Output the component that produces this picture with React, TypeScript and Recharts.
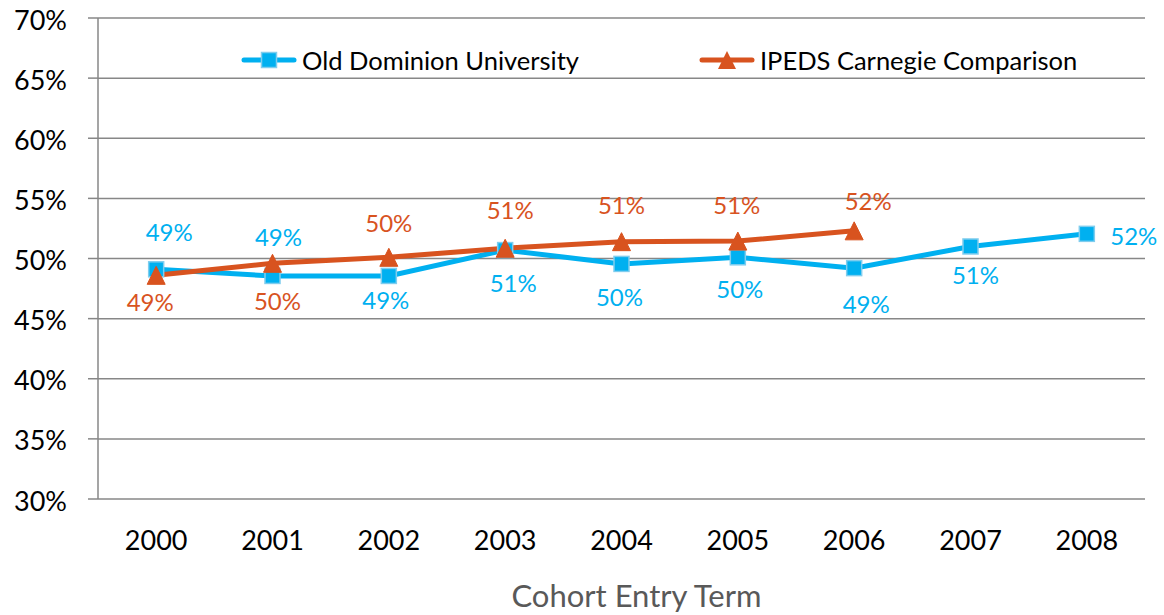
import React from 'react';
import { LineChart, Line, XAxis, YAxis, CartesianGrid, Legend, LabelList, Label } from 'recharts';

const years = ['2000', '2001', '2002', '2003', '2004', '2005', '2006', '2007', '2008'];
const oduValues: (number | null)[] = [49.1, 48.55, 48.55, 50.7, 49.55, 50.1, 49.2, 51.0, 52.05];
const ipedsValues: (number | null)[] = [48.6, 49.6, 50.1, 50.85, 51.4, 51.45, 52.3, null, null];
const yTicks = [30, 35, 40, 45, 50, 55, 60, 65, 70];
const seriesKeys = ['odu', 'ipeds'];
const seriesNames = ['Old Dominion University', 'IPEDS Carnegie Comparison'];
const xTitle = 'Cohort Entry Term';

const rows = years.map((year, i) => ({ i, year, odu: oduValues[i], ipeds: ipedsValues[i] }));
const labelTicks = years.map((_, i) => i);
const markTicks = [...years.map((_, i) => i - 0.5), years.length - 0.5];

const BLUE = '#00B0F0';
const BLUE_EDGE = '#7FCDEE';
const ORANGE = '#D8531F';
const GRID = '#878787';
const FONT = 'Lato, "Open Sans", sans-serif';

// label placement relative to each point (style)
const oduLabelOffset = [[13, -38], [6, -39], [-3, 24], [8, 32], [-2, 33], [2, 31], [12, 35], [5, 28], [47, 2]];
const ipedsLabelOffset = [[-6, 26], [5, 37], [0, -35], [5, -39], [0, -37], [-1, -37], [14, -30]];

const SquareDot = (props: any) => {
  const { cx, cy, index } = props;
  if (cx == null || cy == null) return <g key={`sq-${index}`} />;
  const s = 15;
  return (
    <rect key={`sq-${index}`} x={cx - s / 2} y={cy - s / 2} width={s} height={s}
      fill={BLUE} stroke={BLUE_EDGE} strokeWidth={1.5} />
  );
};

const TriangleDot = (props: any) => {
  const { cx, cy, index } = props;
  if (cx == null || cy == null) return <g key={`tr-${index}`} />;
  const h = 9;
  const w = 9;
  return (
    <polygon key={`tr-${index}`} points={`${cx},${cy - h} ${cx + w},${cy + h} ${cx - w},${cy + h}`}
      fill={ORANGE} stroke={ORANGE} strokeWidth={1} strokeLinejoin="miter" />
  );
};

const makeLabel = (values: (number | null)[], offsets: number[][], color: string) => (props: any) => {
  const { x, y, value } = props;
  const i = value as number;
  const v = values[i];
  if (v == null || x == null || y == null) return null;
  const [dx, dy] = offsets[i] || [0, 0];
  return (
    <text x={x + dx} y={y + dy} textAnchor="middle" dominantBaseline="central"
      fill={color} fontSize={24} fontFamily={FONT}>
      {`${Math.round(v)}%`}
    </text>
  );
};

const LegendIcon = ({ kind }: { kind: number }) => (
  <svg width={56} height={22} style={{ display: 'block' }}>
    <line x1={3} y1={11} x2={53} y2={11} stroke={kind === 0 ? BLUE : ORANGE} strokeWidth={5} strokeLinecap="round" />
    {kind === 0 ? (
      <rect x={20.5} y={3.5} width={15} height={15} fill={BLUE} stroke={BLUE_EDGE} strokeWidth={1.5} />
    ) : (
      <polygon points="28,2 37,20 19,20" fill={ORANGE} />
    )}
  </svg>
);

const renderLegend = (props: any) => {
  const payload = [...(props.payload || [])].sort(
    (a: any, b: any) => seriesKeys.indexOf(a.dataKey) - seriesKeys.indexOf(b.dataKey)
  );
  return (
    <div style={{ display: 'flex', alignItems: 'center', fontFamily: FONT, fontSize: 25.5, color: '#000', whiteSpace: 'nowrap' }}>
      {payload.map((entry: any, idx: number) => (
        <div key={idx} style={{ display: 'flex', alignItems: 'center', marginLeft: idx === 0 ? 0 : 120 }}>
          <LegendIcon kind={entry.dataKey === 'odu' ? 0 : 1} />
          <span style={{ marginLeft: 5, lineHeight: '30px' }}>{entry.value}</span>
        </div>
      ))}
    </div>
  );
};

const XTitle = (props: any) => {
  const vb = props.viewBox || {};
  return (
    <text x={vb.x + vb.width / 2 + 15} y={vb.y + vb.height - 8} textAnchor="middle"
      fill="#595959" fontSize={31} fontFamily={FONT}>
      {xTitle}
    </text>
  );
};

export default function App() {
  return (
    <div style={{ width: 1164, height: 615, background: '#fff' }}>
      <style>{'body{margin:0;background:#fff}'}</style>
      <LineChart width={1164} height={615} data={rows} margin={{ top: 18, right: 19, bottom: 0, left: 0 }}>
        <CartesianGrid vertical={false} horizontal stroke={GRID} strokeWidth={1.5} xAxisId="marks" />
        <XAxis xAxisId="marks" type="number" dataKey="i" domain={[-0.5, years.length - 0.5]} ticks={markTicks}
          interval={0} height={0} tickSize={10} tick={() => <g />} tickLine={{ stroke: GRID, strokeWidth: 1.5 }}
          axisLine={{ stroke: GRID, strokeWidth: 1.5 }} allowDataOverflow />
        <XAxis xAxisId="labels" type="number" dataKey="i" domain={[-0.5, years.length - 0.5]} ticks={labelTicks}
          interval={0} height={116} tickSize={0} tickMargin={32} tickLine={false} axisLine={false}
          tickFormatter={(v: number) => years[v]} allowDataOverflow
          tick={{ fill: '#000', fontSize: 27, fontFamily: FONT }}>
          <Label content={<XTitle />} />
        </XAxis>
        <YAxis type="number" domain={[30, 70]} ticks={yTicks} interval={0} width={98} tickSize={10} tickMargin={21}
          tickFormatter={(v: number) => `${v}%`} tick={{ fill: '#000', fontSize: 27, fontFamily: FONT, dy: 2 }}
          tickLine={{ stroke: GRID, strokeWidth: 1.5 }} axisLine={{ stroke: GRID, strokeWidth: 1.5 }} allowDataOverflow />
        <Legend layout="horizontal" verticalAlign="middle" align="center" content={renderLegend}
          wrapperStyle={{ top: 45, left: 241, width: 'auto' }} />
        <Line xAxisId="labels" dataKey="odu" name={seriesNames[0]} stroke={BLUE} strokeWidth={5}
          dot={<SquareDot />} activeDot={false} isAnimationActive={false} connectNulls={false}>
          <LabelList dataKey="i" content={makeLabel(oduValues, oduLabelOffset, BLUE)} />
        </Line>
        <Line xAxisId="labels" dataKey="ipeds" name={seriesNames[1]} stroke={ORANGE} strokeWidth={5}
          dot={<TriangleDot />} activeDot={false} isAnimationActive={false} connectNulls={false}>
          <LabelList dataKey="i" content={makeLabel(ipedsValues, ipedsLabelOffset, ORANGE)} />
        </Line>
      </LineChart>
    </div>
  );
}
